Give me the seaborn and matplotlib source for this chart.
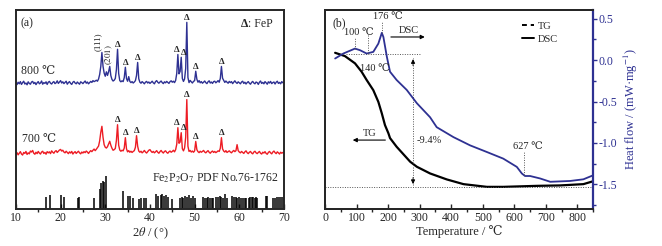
import numpy as np
import matplotlib
matplotlib.use("Agg")
import matplotlib.pyplot as plt
from matplotlib.lines import Line2D
from matplotlib.ticker import MultipleLocator, NullLocator
import seaborn as sns

# ---------------- data: XRD (panel a) ----------------
two_theta = np.round(np.arange(10, 70.001, 0.25), 2)

xrd_800 = [
    2.1, 1.4, 2.6, 1.8, 2.9, 1.5, 2.4, 3.1, 1.7, 2.2, 1.3, 2.8, 2.0, 1.6, 2.7, 3.0, 1.9, 2.5, 1.4, 2.3,
    2.9, 1.8, 2.2, 3.2, 1.6, 2.4, 2.0, 2.8, 1.5, 2.6, 3.0, 2.1, 1.7, 2.5, 2.9, 1.9, 2.3, 3.3, 2.0, 2.7,
    3.4, 2.2, 2.8, 1.9, 2.5, 3.1, 1.6, 2.4, 2.9, 2.0, 1.5, 2.6, 3.0, 2.2, 1.8, 2.7, 2.1, 1.6, 2.8, 2.4,
    1.9, 2.6, 3.2, 2.1, 2.7, 1.8, 2.4, 3.0, 2.5, 3.4, 2.9, 3.2, 3.6, 3.1, 4.2, 6.5, 10.5, 17.5, 10.6, 7.2,
    5.6, 7.8, 6.0, 7.9, 10.5, 5.9, 4.0, 3.2, 3.6, 4.5, 9.0, 19.1, 7.0, 3.4, 2.8, 3.3, 2.9, 4.9, 10.1, 4.4,
    3.1, 5.4, 3.0, 2.4, 2.9, 2.2, 2.7, 3.4, 6.0, 12.5, 4.3, 2.6, 2.1, 2.9, 2.4, 1.8, 2.6, 3.0, 2.2, 2.7,
    2.0, 2.5, 3.1, 2.3, 1.8, 2.9, 3.4, 2.6, 2.1, 2.7, 3.2, 2.4, 1.9, 2.8, 2.3, 3.0, 2.5, 2.0, 2.9, 3.3,
    2.6, 3.1, 2.4, 3.5, 7.0, 16.5, 6.8, 8.0, 15.1, 4.5, 3.0, 4.2, 9.5, 32.6, 5.0, 2.4, 3.5, 2.8, 2.2, 3.0,
    3.4, 8.1, 4.1, 2.6, 3.4, 2.3, 2.9, 2.1, 2.6, 3.2, 2.4, 1.9, 2.8, 3.3, 2.2, 2.7, 2.0, 2.9, 3.1, 2.3,
    2.8, 3.4, 2.6, 4.5, 10.5, 4.6, 3.5, 2.5, 3.2, 2.6, 2.1, 3.0, 2.4, 2.9, 1.9, 2.6, 3.3, 2.5, 2.0, 2.8,
    2.3, 1.8, 2.7, 3.1, 2.0, 2.6, 1.7, 2.4, 2.9, 2.1, 1.6, 2.5, 3.0, 2.2, 1.8, 2.7, 2.4, 1.5, 2.6, 3.2,
    2.0, 2.5, 1.8, 2.9, 2.3, 1.6, 2.8, 2.2, 3.0, 1.9, 2.4, 2.7, 1.7, 2.6, 3.1, 2.0, 2.5, 1.8, 2.9, 2.3,
    2.4,
]

xrd_700 = [
    1.5, 2.3, 1.2, 2.0, 2.8, 1.6, 1.1, 2.4, 1.9, 2.9, 1.4, 2.2, 1.7, 3.1, 2.6, 3.4, 2.0, 1.5, 2.5, 1.8,
    2.9, 2.1, 1.6, 2.6, 3.0, 1.9, 2.4, 1.5, 2.8, 2.2, 2.7, 1.8, 3.2, 2.5, 2.0, 2.9, 3.3, 2.4, 3.0, 3.6,
    3.9, 3.1, 3.5, 2.6, 2.2, 3.0, 2.4, 1.8, 2.7, 2.1, 2.9, 1.6, 2.3, 2.8, 1.9, 2.5, 3.0, 2.2, 1.7, 2.6,
    2.1, 2.8, 2.3, 3.1, 2.6, 1.9, 2.7, 3.3, 2.8, 3.5, 4.1, 3.3, 4.0, 4.8, 5.6, 8.2, 12.5, 15.5, 10.0, 6.3,
    5.0, 4.6, 5.3, 6.6, 8.0, 6.0, 4.5, 3.5, 3.8, 4.4, 8.5, 16.3, 6.0, 3.6, 3.0, 3.5, 3.2, 4.6, 9.8, 4.2,
    2.7, 3.3, 2.5, 3.0, 2.4, 2.9, 3.3, 5.0, 10.8, 5.5, 3.1, 2.5, 3.0, 2.2, 2.7, 3.4, 2.6, 2.1, 2.8, 3.5,
    3.8, 3.0, 2.4, 2.9, 2.2, 2.7, 3.3, 2.5, 2.0, 2.8, 3.4, 2.6, 2.1, 2.9, 3.2, 2.4, 2.0, 2.7, 3.1, 2.5,
    2.9, 3.5, 2.7, 3.8, 6.5, 14.8, 7.0, 7.6, 12.3, 4.3, 3.2, 4.6, 10.0, 28.9, 5.5, 2.9, 3.4, 2.6, 3.1, 2.5,
    3.2, 7.9, 3.8, 2.8, 2.3, 3.0, 2.5, 2.9, 3.4, 2.6, 2.2, 2.8, 3.3, 2.5, 2.0, 2.7, 3.1, 2.4, 2.9, 2.3,
    2.7, 3.2, 2.9, 4.5, 9.8, 4.2, 3.1, 2.6, 3.3, 2.4, 2.8, 3.2, 2.6, 2.2, 2.9, 3.4, 2.8, 3.3, 6.3, 3.3,
    2.6, 2.2, 2.9, 2.4, 1.9, 2.7, 3.2, 2.3, 1.8, 2.5, 2.9, 2.1, 1.7, 2.6, 3.0, 2.2, 1.8, 2.4, 2.9, 2.0,
    1.6, 2.5, 2.1, 2.8, 1.9, 1.5, 2.4, 2.9, 2.2, 1.7, 2.6, 3.1, 2.3, 1.8, 2.7, 2.2, 1.6, 2.5, 2.0, 2.4,
    2.3,
]

fep_peaks_800 = [32.75, 34.5, 37.25, 46.25, 47.0, 48.25, 50.25, 56.0]
fep_peaks_700 = [32.75, 34.5, 37.0, 46.25, 47.0, 48.25, 50.25, 56.0]

pdf_pos = [16.7, 17.6, 20.2, 20.7, 23.8, 24.2, 27.5, 28.8, 29.1, 29.4, 29.7, 30.1, 34.0, 35.2, 35.6,
           36.2, 37.6, 38.1, 38.6, 39.1, 41.3, 41.7, 42.5, 42.8, 43.1, 43.7, 44.1, 45.0, 46.7, 47.1,
           47.5, 47.8, 48.3, 48.8, 49.1, 49.7, 50.1, 51.9, 52.3, 52.7, 53.1, 53.5, 53.9, 54.2, 54.8,
           55.2, 55.6, 56.0, 56.4, 56.8, 57.2, 58.4, 58.8, 59.2, 59.5, 60.0, 60.4, 60.9, 61.3, 61.6,
           62.2, 62.5, 62.8, 63.1, 63.4, 63.7, 64.0, 65.9, 66.3, 67.5, 67.9, 68.4, 68.8, 69.3, 69.8]
pdf_int = [5.9, 6.9, 7.0, 5.9, 5.5, 6.0, 5.5, 10.0, 12.9, 14.0, 13.5, 16.6, 9.2, 6.7, 6.5,
           5.5, 5.3, 5.8, 5.6, 5.7, 7.4, 6.5, 7.0, 7.7, 6.8, 7.2, 6.0, 5.2, 5.6, 5.9,
           5.7, 6.4, 6.0, 7.0, 5.8, 6.6, 5.4, 6.0, 5.8, 5.6, 5.9, 5.5, 5.8, 5.6, 6.1,
           5.9, 6.8, 6.3, 5.7, 7.5, 5.5, 6.6, 6.2, 5.9, 5.6, 6.0, 5.5, 5.8, 5.6, 5.7,
           5.8, 5.9, 5.9, 5.9, 5.8, 5.9, 5.7, 6.5, 6.4, 5.8, 5.7, 5.9, 6.1, 6.0, 6.0]

# ---------------- data: TG / DSC (panel b) ----------------
tg_temp = [32, 63, 95, 116, 132, 153, 169, 180, 190, 201, 206, 227, 270, 291, 333, 386, 439,
           513, 565, 671, 745, 819, 851]
tg_mass = [100.0, 99.77, 99.26, 98.67, 98.09, 97.38, 96.56, 95.75, 94.93, 94.35, 94.02, 93.41,
           92.36, 92.01, 91.54, 91.12, 90.79, 90.60, 90.60, 90.67, 90.70, 90.79, 91.0]

dsc_temp = [32, 58, 95, 111, 132, 153, 169, 180, 185, 196, 206, 227, 259, 291, 333, 354, 407,
            460, 513, 565, 608, 624, 634, 650, 682, 714, 777, 819, 851]
dsc_flow = [0.02, 0.08, 0.14, 0.12, 0.08, 0.10, 0.20, 0.33, 0.28, 0.04, -0.14, -0.24, -0.36,
            -0.52, -0.69, -0.81, -0.93, -1.03, -1.11, -1.19, -1.29, -1.37, -1.40, -1.40, -1.43,
            -1.47, -1.46, -1.44, -1.39]

# ---------------- style ----------------
sns.set_style("ticks")
plt.rcParams["font.family"] = ["Liberation Serif", "DejaVu Serif"]
plt.rcParams["mathtext.fontset"] = "stix"
plt.rcParams["axes.linewidth"] = 1.4

BLUE = "#2E3192"
RED = "#ED1C24"
FS = 8.5

fig = plt.figure(figsize=(6.62, 2.46), dpi=100)
ax1 = fig.add_axes([0.024, 0.150, 0.405, 0.811])
ax2 = fig.add_axes([0.491, 0.150, 0.405, 0.811])

# ---------------- panel a ----------------
off_800, off_700 = 61.0, 26.0
y800 = np.array(xrd_800) + off_800
y700 = np.array(xrd_700) + off_700
sns.lineplot(x=two_theta, y=y800, ax=ax1, color=BLUE, lw=1.0)
sns.lineplot(x=two_theta, y=y700, ax=ax1, color=RED, lw=1.0)
ax1.vlines(pdf_pos, 0, pdf_int, colors="black", lw=1.1)

tri_shift = {46.25: -1.2, 47.0: 1.6}
for xs, yy in ((fep_peaks_800, y800), (fep_peaks_700, y700)):
    for xp in xs:
        ax1.annotate("Δ", xy=(xp, np.interp(xp, two_theta, yy)),
                     xytext=(tri_shift.get(xp, 0), 0.5),
                     textcoords="offset points", ha="center", va="bottom",
                     fontsize=6.5, fontweight="bold")

ax1.text(28.35, np.interp(29.25, two_theta, y800) + 0.5, "(111)", rotation=90,
         ha="center", va="bottom", fontsize=6.5)
ax1.text(30.7, np.interp(31.0, two_theta, y800) + 0.5, r"$(\bar{2}01)$", rotation=90,
         ha="center", va="bottom", fontsize=6.5)
ax1.text(11.2, 69.3, "800 ℃", ha="left", va="center", fontsize=FS)
ax1.text(11.4, 35.0, "700 ℃", ha="left", va="center", fontsize=FS)
ax1.text(68.8, 15.6, r"Fe$_2$P$_2$O$_7$ PDF No.76-1762", ha="right", va="center", fontsize=FS)
ax1.text(11.0, 93.0, "(a)", ha="left", va="center", fontsize=FS)
ax1.text(60.3, 93.0, "Δ", ha="left", va="center", fontsize=FS, fontweight="bold")
ax1.text(61.9, 93.0, ": FeP", ha="left", va="center", fontsize=FS)

ax1.set_xlim(10, 70)
ax1.set_ylim(0, 100)
ax1.xaxis.set_major_locator(MultipleLocator(10))
ax1.xaxis.set_minor_locator(MultipleLocator(5))
ax1.yaxis.set_major_locator(NullLocator())
ax1.tick_params(axis="x", which="major", direction="in", length=3.5, width=1.0,
                labelsize=FS, pad=2)
ax1.tick_params(axis="x", which="minor", direction="out", length=2.5, width=1.0)
ax1.set_xlabel(r"2$\theta$ / (°)", fontsize=9, labelpad=1)
ax1.set_ylabel("")

# ---------------- panel b ----------------
ax3 = ax2.twinx()
sns.lineplot(x=tg_temp, y=tg_mass, ax=ax2, color="black", lw=1.6)
sns.lineplot(x=dsc_temp, y=dsc_flow, ax=ax3, color=BLUE, lw=1.3)

ax2.set_xlim(0, 850)
ax2.set_ylim(89.04, 103.03)
ax3.set_ylim(-1.80, 0.611)

ax2.xaxis.set_major_locator(MultipleLocator(100))
ax2.xaxis.set_minor_locator(MultipleLocator(50))
ax2.yaxis.set_major_locator(NullLocator())
ax2.tick_params(axis="x", which="major", direction="in", length=3.5, width=1.0,
                labelsize=FS, pad=2)
ax2.tick_params(axis="x", which="minor", direction="out", length=2.5, width=1.0)
ax2.set_xlabel("Temperature / ℃", fontsize=9, labelpad=1)
ax2.set_ylabel("")

ax3.yaxis.set_major_locator(MultipleLocator(0.5))
ax3.yaxis.set_minor_locator(MultipleLocator(0.25))
ax3.yaxis.set_major_formatter(matplotlib.ticker.FuncFormatter(lambda v, p: f"{v:.1f}"))
ax3.tick_params(axis="y", which="both", direction="out", colors=BLUE, width=1.0,
                labelsize=FS, pad=1)
ax3.tick_params(axis="y", which="major", length=3.0)
ax3.tick_params(axis="y", which="minor", length=2.0)
ax3.spines["right"].set_color(BLUE)
ax3.spines["right"].set_linewidth(1.6)
ax3.set_ylabel(r"Heat flow / (mW·mg$^{-1}$)", color=BLUE, fontsize=9, labelpad=3)

# reference lines & arrows
dot = dict(color="#555555", lw=0.7, linestyles=(0, (1, 1.5)))
ax2.hlines(90.6, 0, 850, **dot)
ax2.hlines(99.9, 65, 300, **dot)
ax2.vlines(279, 90.75, 99.65, **dot)
ax2.annotate("", xy=(279, 99.75), xytext=(279, 98.9),
             arrowprops=dict(arrowstyle="-|>", color="black", lw=0.6, mutation_scale=6))
ax2.annotate("", xy=(279, 90.6), xytext=(279, 91.45),
             arrowprops=dict(arrowstyle="-|>", color="black", lw=0.6, mutation_scale=6))
ax3.vlines(180, 0.33, 0.46, **dot)
ax3.vlines(95, 0.14, 0.27, **dot)
ax3.vlines(137, 0.085, 0.30, **dot)
ax3.vlines(631, -1.39, -1.11, **dot)

ax3.text(200, 0.53, "176 ℃", ha="center", va="center", fontsize=7.5)
ax3.text(108, 0.34, "100 ℃", ha="center", va="center", fontsize=7.5)
ax3.text(158, -0.10, "140 ℃", ha="center", va="center", fontsize=7.5)
ax3.text(644, -1.04, "627 ℃", ha="center", va="center", fontsize=7.5)
ax3.text(266, 0.36, "DSC", ha="center", va="center", fontsize=7.5)
ax3.annotate("", xy=(325, 0.28), xytext=(200, 0.28),
             arrowprops=dict(arrowstyle="-|>", color="black", lw=0.8, mutation_scale=6))
ax2.text(143, 94.35, "TG", ha="center", va="center", fontsize=7.5)
ax2.annotate("", xy=(79, 93.88), xytext=(200, 93.88),
             arrowprops=dict(arrowstyle="-|>", color="black", lw=0.8, mutation_scale=6))
ax2.text(291, 93.88, "-9.4%", ha="left", va="center", fontsize=7.5)
ax2.text(0.026, 0.93, "(b)", transform=ax2.transAxes, ha="left", va="center", fontsize=FS)

handles = [Line2D([], [], color="black", ls=(0, (2.5, 2)), lw=1.4),
           Line2D([], [], color="black", ls="-", lw=1.4)]
ax2.legend(handles, ["TG", "DSC"], loc="upper left", bbox_to_anchor=(0.72, 0.96),
           frameon=False, fontsize=7.5, handlelength=1.1, handletextpad=0.4,
           labelspacing=0.35, borderaxespad=0)

fig.savefig("out.png", dpi=100)
